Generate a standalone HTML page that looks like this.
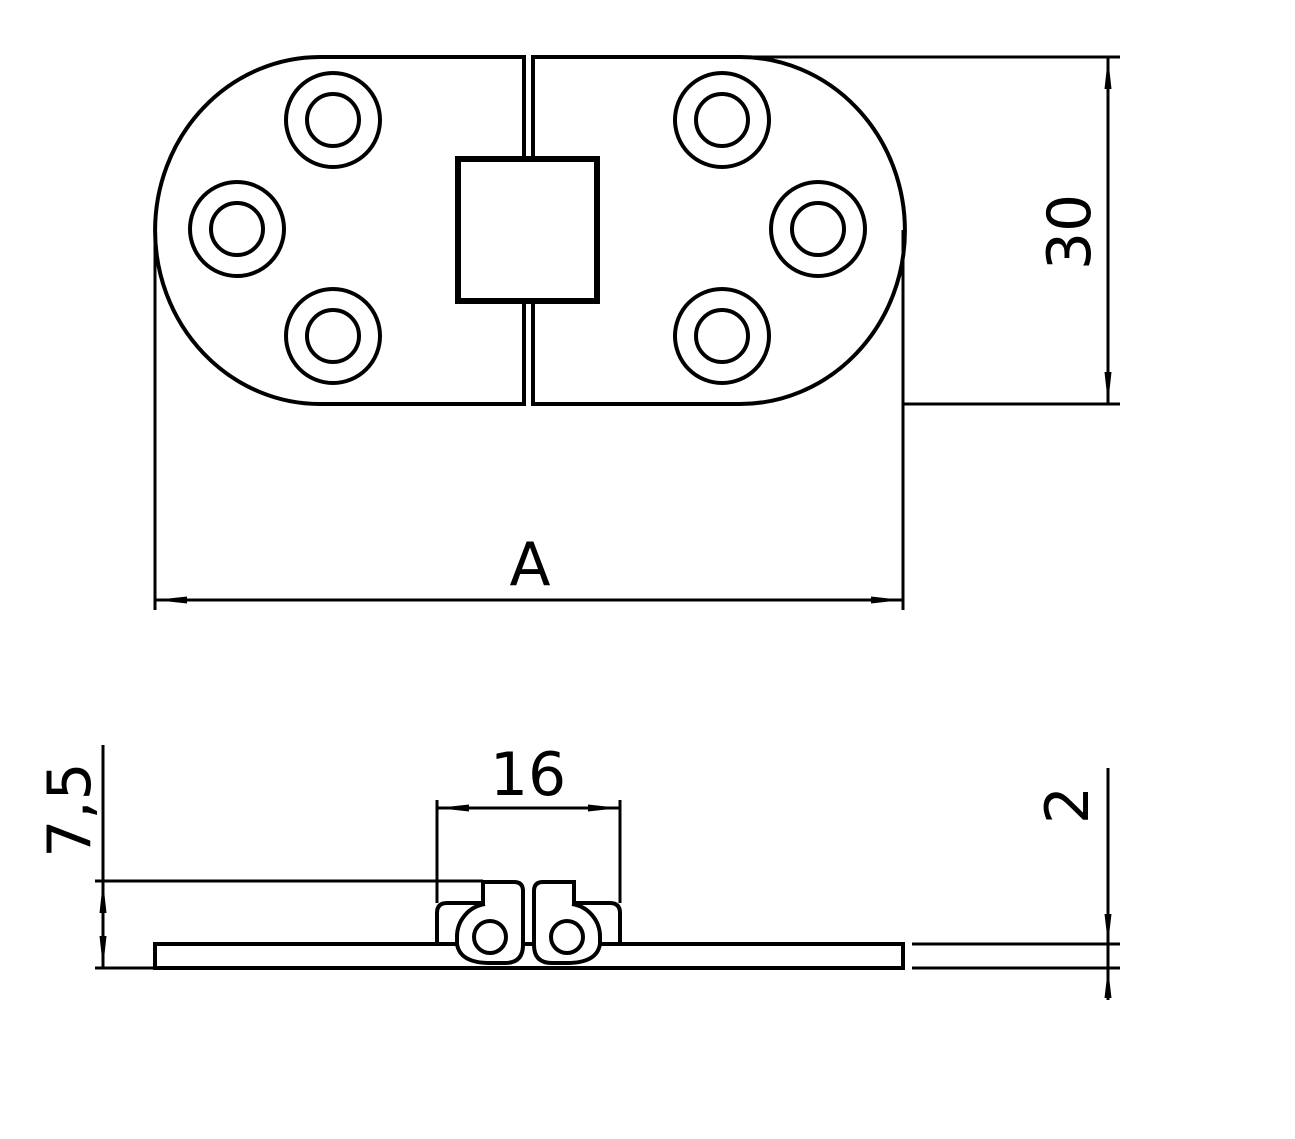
<!DOCTYPE html>
<html><head><style>html,body{margin:0;padding:0;background:#fff}svg{display:block}</style></head>
<body>
<svg width="1295" height="1139" viewBox="0 0 1295 1139" xmlns="http://www.w3.org/2000/svg" font-family="DejaVu Sans, Liberation Sans, sans-serif">
<g fill="none" stroke="#000" stroke-width="4">
<!-- top view plates -->
<path d="M524,57 H320 A165,173.5 0 0 0 320,404 H524 Z"/>
<path d="M533,57 H740 A165,173.5 0 0 1 740,404 H533 Z"/>
<rect x="458" y="159" width="139" height="142" stroke-width="6" fill="#fff"/>
<!-- screws -->
<circle cx="333" cy="120" r="47"/><circle cx="333" cy="120" r="26"/>
<circle cx="237" cy="229" r="47"/><circle cx="237" cy="229" r="26"/>
<circle cx="333" cy="336" r="47"/><circle cx="333" cy="336" r="26"/>
<circle cx="722" cy="120" r="47"/><circle cx="722" cy="120" r="26"/>
<circle cx="818" cy="229" r="47"/><circle cx="818" cy="229" r="26"/>
<circle cx="722" cy="336" r="47"/><circle cx="722" cy="336" r="26"/>
</g>
<g fill="none" stroke="#000" stroke-width="3">
<!-- dimension 30 -->
<line x1="740" y1="57" x2="1120" y2="57"/>
<line x1="903" y1="404" x2="1120" y2="404"/>
<line x1="1108" y1="57" x2="1108" y2="404"/>
<!-- dimension A -->
<line x1="155" y1="220" x2="155" y2="610"/>
<line x1="903" y1="230" x2="903" y2="610"/>
<line x1="155" y1="600" x2="903" y2="600"/>
<line x1="912" y1="944" x2="1120" y2="944"/>
<line x1="912" y1="968" x2="1120" y2="968"/>
<line x1="1108" y1="768" x2="1108" y2="1000"/>
<line x1="95" y1="881" x2="483" y2="881"/>
<line x1="95" y1="968" x2="155" y2="968"/>
<line x1="103" y1="745" x2="103" y2="968"/>
<line x1="437" y1="800" x2="437" y2="903"/>
<line x1="620" y1="800" x2="620" y2="903"/>
<line x1="437" y1="808" x2="620" y2="808"/>
</g>
<g fill="none" stroke="#000" stroke-width="4">
<rect x="155" y="944" width="748" height="24" fill="#fff"/>
<g id="k">
<path d="M437,944 V913 Q437,903 447,903 H483 V882 H514 Q523,882 523,891 V945 Q523,963 505,963 H490 Q460,963 457,944 Z" fill="#fff"/>
<path d="M485,904 A33,33 0 0 0 457,937 V944"/>
<circle cx="490" cy="937" r="16"/>
</g>
<g transform="translate(1057,0) scale(-1,1)">
<path d="M437,944 V913 Q437,903 447,903 H483 V882 H514 Q523,882 523,891 V945 Q523,963 505,963 H490 Q460,963 457,944 Z" fill="#fff"/>
<path d="M485,904 A33,33 0 0 0 457,937 V944"/>
<circle cx="490" cy="937" r="16"/>
</g>
</g>
<!-- arrows -->
<g fill="#000">
<path d="M1108,57 l-3.5,32 h7 z"/><path d="M1108,404 l-3.5,-32 h7 z"/>
<path d="M155,600 l32,-3.5 v7 z"/><path d="M903,600 l-32,-3.5 v7 z"/>
<path d="M437,808 l32,-3.5 v7 z"/><path d="M620,808 l-32,-3.5 v7 z"/>
<path d="M103,881 l-3.5,32 h7 z"/><path d="M103,968 l-3.5,-32 h7 z"/>
<path d="M1108,944 l-3.5,-30 h7 z"/><path d="M1108,968 l-3.5,30 h7 z"/>
</g>
<g font-size="60" fill="#000">
<text x="530" y="585" text-anchor="middle">A</text>
<text x="528" y="795" text-anchor="middle">16</text>
<text transform="translate(1090,232) rotate(-90)" text-anchor="middle">30</text>
<text transform="translate(1088,805) rotate(-90)" text-anchor="middle">2</text>
<text transform="translate(90,810) rotate(-90)" text-anchor="middle">7,5</text>
</g>
</svg>
</body></html>
